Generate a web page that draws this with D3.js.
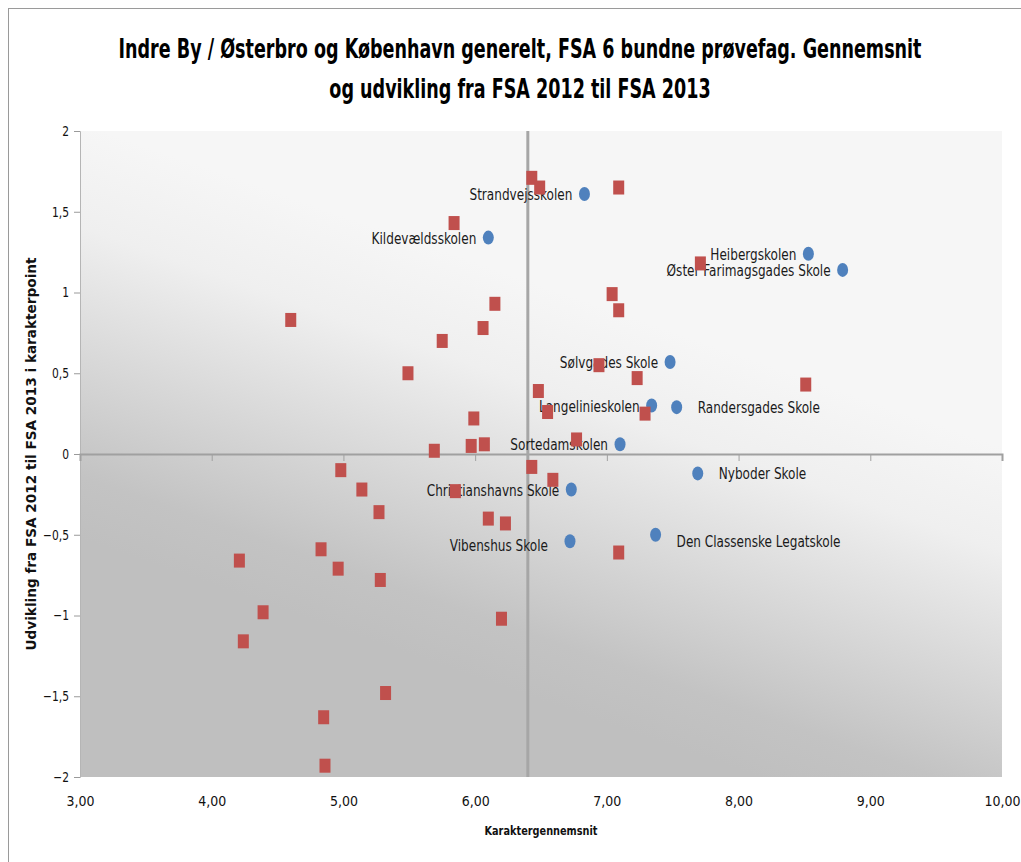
<!DOCTYPE html>
<html>
<head>
<meta charset="utf-8">
<script src="https://cdn.jsdelivr.net/npm/d3@7"></script>
<style>
  body { margin: 0; background: #fff; }
  text { font-family: "Liberation Sans Narrow", "DejaVu Sans Condensed", "Liberation Sans", sans-serif; }
</style>
</head>
<body>
<svg width="1021" height="862"></svg>
<script>
// blue series: named schools
const schoolNames = ['Strandvejsskolen', 'Kildevældsskolen', 'Heibergskolen', 'Øster Farimagsgades Skole',
	'Sølvgades Skole', 'Langelinieskolen', 'Randersgades Skole', 'Sortedamskolen', 'Nyboder Skole',
	'Christianshavns Skole', 'Vibenshus Skole', 'Den Classenske Legatskole'];
const schoolX = [6.83, 6.10, 8.53, 8.79, 7.48, 7.34, 7.53, 7.10, 7.69, 6.73, 6.72, 7.37];
const schoolY = [1.61, 1.34, 1.24, 1.14, 0.57, 0.30, 0.29, 0.06, -0.12, -0.22, -0.54, -0.50];

// red series: the rest of København
const otherX = [6.43, 6.49, 7.09, 5.84, 7.71, 7.04, 7.09, 4.60, 6.15, 6.06, 5.75, 5.49, 6.94, 7.23,
	8.51, 6.48, 6.55, 7.29, 5.99, 6.77, 5.69, 5.97, 6.07, 6.43, 6.59, 4.98, 5.14, 5.85, 5.27, 6.10,
	6.23, 4.83, 4.21, 4.96, 5.28, 7.09, 4.39, 6.20, 4.24, 5.32, 4.85, 4.86];
const otherY = [1.71, 1.65, 1.65, 1.43, 1.18, 0.99, 0.89, 0.83, 0.93, 0.78, 0.70, 0.50, 0.55, 0.47,
	0.43, 0.39, 0.26, 0.25, 0.22, 0.09, 0.02, 0.05, 0.06, -0.08, -0.16, -0.10, -0.22, -0.23, -0.36, -0.40,
	-0.43, -0.59, -0.66, -0.71, -0.78, -0.61, -0.98, -1.02, -1.16, -1.48, -1.63, -1.93];

const xTicks = [3, 4, 5, 6, 7, 8, 9, 10];
const yTicks = [-2, -1.5, -1, -0.5, 0, 0.5, 1, 1.5, 2];
const copenhagenMean = 6.40;

const titleLines = ['Indre By / Østerbro og København generelt, FSA 6 bundne prøvefag. Gennemsnit',
	'og udvikling fra FSA 2012 til FSA 2013'];
const xTitle = 'Karaktergennemsnit';
const yTitle = 'Udvikling fra FSA 2012 til FSA 2013 i karakterpoint';

// label placement (style, not data)
const labelRight = {'Randersgades Skole': 1, 'Nyboder Skole': 1, 'Den Classenske Legatskole': 1};
const labelShift = {'Vibenshus Skole': [-10, 4], 'Den Classenske Legatskole': [0, 6]};

const svg = d3.select('svg');
const width = +svg.attr('width');
const height = +svg.attr('height');

const margin = {top: 131, right: 19, bottom: 85, left: 80};
const innerWidth = width - margin.left - margin.right;
const innerHeight = height - margin.top - margin.bottom;

const da = d3.formatLocale({decimal: ',', thousands: '.', grouping: [3], currency: ['', '']});
const fmtX = da.format('.2f');
const fmtY = d => da.format('~g')(d);

// squeeze wide fallback glyphs to the narrow look of the original
const condense = (sel, k) => {
	sel.each(function() {
		const w = this.getComputedTextLength();
		d3.select(this)
			.attr('textLength', w * k)
			.attr('lengthAdjust', 'spacingAndGlyphs');
	});
};
const ratio = (sel, target) => target / sel.node().getComputedTextLength();

// chart border
svg.append('rect')
	.attr('x', 8.5).attr('y', 8.5)
	.attr('width', width + 20).attr('height', height + 20)
	.attr('fill', 'none')
	.attr('stroke', '#9a9a9a');

const xScale = d3.scaleLinear().domain([3, 10]).range([0, innerWidth]);
const yScale = d3.scaleLinear().domain([-2, 2]).range([innerHeight, 0]);

const defs = svg.append('defs');
const grad = defs.append('linearGradient')
	.attr('id', 'bg')
	.attr('gradientUnits', 'userSpaceOnUse')
	.attr('x1', 320).attr('y1', 520)
	.attr('x2', 450).attr('y2', 150);
grad.append('stop').attr('offset', '0').attr('stop-color', '#bfbfbf');
grad.append('stop').attr('offset', '0.15').attr('stop-color', '#c3c3c3');
grad.append('stop').attr('offset', '0.75').attr('stop-color', '#efefef');
grad.append('stop').attr('offset', '1').attr('stop-color', '#f6f6f6');

const g = svg.append('g')
	.attr('transform', `translate(${margin.left}, ${margin.top})`);

g.append('rect')
	.attr('width', innerWidth)
	.attr('height', innerHeight)
	.attr('fill', 'url(#bg)');

// y axis on the left
const yAxis = d3.axisLeft(yScale)
	.tickValues(yTicks)
	.tickFormat(fmtY)
	.tickSize(6)
	.tickPadding(5);

const yAxisG = g.append('g').call(yAxis);
yAxisG.select('.domain').attr('stroke', '#b5b5b5');
yAxisG.selectAll('.tick line').attr('stroke', '#9a9a9a');
yAxisG.selectAll('.tick text')
	.attr('font-size', 14)
	.attr('fill', '#111');
condense(yAxisG.selectAll('.tick text'), 0.85);

// horizontal axis crossing at 0, labels at the bottom
const xAxis = d3.axisBottom(xScale)
	.tickValues(xTicks)
	.tickSize(7)
	.tickFormat('');

const xAxisG = g.append('g')
	.attr('transform', `translate(0, ${yScale(0)})`)
	.call(xAxis);
xAxisG.select('.domain').attr('stroke', '#a0a0a0').attr('stroke-width', 2);
xAxisG.selectAll('.tick line').attr('stroke', '#a0a0a0');

const xLabelG = g.append('g')
	.attr('transform', `translate(0, ${innerHeight})`)
	.call(d3.axisBottom(xScale).tickValues(xTicks).tickFormat(fmtX).tickSize(0).tickPadding(19));
xLabelG.select('.domain').remove();
const xTickText = xLabelG.selectAll('.tick text')
	.attr('font-size', 14)
	.attr('fill', '#111');
condense(xTickText, ratio(xTickText.filter(d => d === 3), 28));

// vertical reference line at the Copenhagen average
g.append('line')
	.attr('x1', xScale(copenhagenMean)).attr('x2', xScale(copenhagenMean))
	.attr('y1', 0).attr('y2', innerHeight)
	.attr('stroke', '#a6a6a6')
	.attr('stroke-width', 3);

// axis titles
const xt = g.append('text')
	.attr('x', innerWidth / 2)
	.attr('y', innerHeight + 58)
	.attr('text-anchor', 'middle')
	.attr('font-weight', 'bold')
	.attr('font-size', 13)
	.attr('fill', '#111')
	.text(xTitle);
condense(xt, ratio(xt, 113));

const yt = g.append('text')
	.attr('transform', `translate(-44, ${yScale(0)}) rotate(-90)`)
	.attr('text-anchor', 'middle')
	.attr('font-weight', 'bold')
	.attr('font-size', 14)
	.attr('fill', '#111')
	.text(yTitle);
condense(yt, ratio(yt, 393));

// blue schools with labels
const schools = schoolNames.map((name, i) => ({name, x: schoolX[i], y: schoolY[i]}));

g.selectAll('ellipse').data(schools)
	.enter().append('ellipse')
		.attr('cx', d => xScale(d.x))
		.attr('cy', d => yScale(d.y))
		.attr('rx', 5.5)
		.attr('ry', 7)
		.attr('fill', '#4f81bd');

const labels = g.selectAll('.label').data(schools)
	.enter().append('text')
		.attr('class', 'label')
		.attr('x', d => xScale(d.x) + (labelRight[d.name] ? 21 : -12) + (labelShift[d.name] ? labelShift[d.name][0] : 0))
		.attr('y', d => yScale(d.y) + 6 + (labelShift[d.name] ? labelShift[d.name][1] : 0))
		.attr('text-anchor', d => labelRight[d.name] ? 'start' : 'end')
		.attr('font-size', 16)
		.attr('fill', '#1a1a1a')
		.text(d => d.name);
condense(labels, ratio(labels.filter(d => d.name === 'Strandvejsskolen'), 103));

// red squares for the rest
const others = otherX.map((x, i) => ({x, y: otherY[i]}));

g.selectAll('.sq').data(others)
	.enter().append('rect')
		.attr('class', 'sq')
		.attr('x', d => xScale(d.x) - 5.5)
		.attr('y', d => yScale(d.y) - 7)
		.attr('width', 11)
		.attr('height', 14)
		.attr('fill', '#c0504d');

// title
const title = svg.append('g')
	.attr('font-weight', 'bold')
	.attr('fill', '#000')
	.attr('text-anchor', 'middle')
	.attr('font-size', 26);
const t1 = title.append('text')
	.attr('x', 520).attr('y', 58)
	.text(titleLines[0]);
const t2 = title.append('text')
	.attr('x', 520).attr('y', 98)
	.text(titleLines[1]);
const kt = ratio(t1, 803);
condense(t1, kt);
condense(t2, kt);
</script>
</body>
</html>
